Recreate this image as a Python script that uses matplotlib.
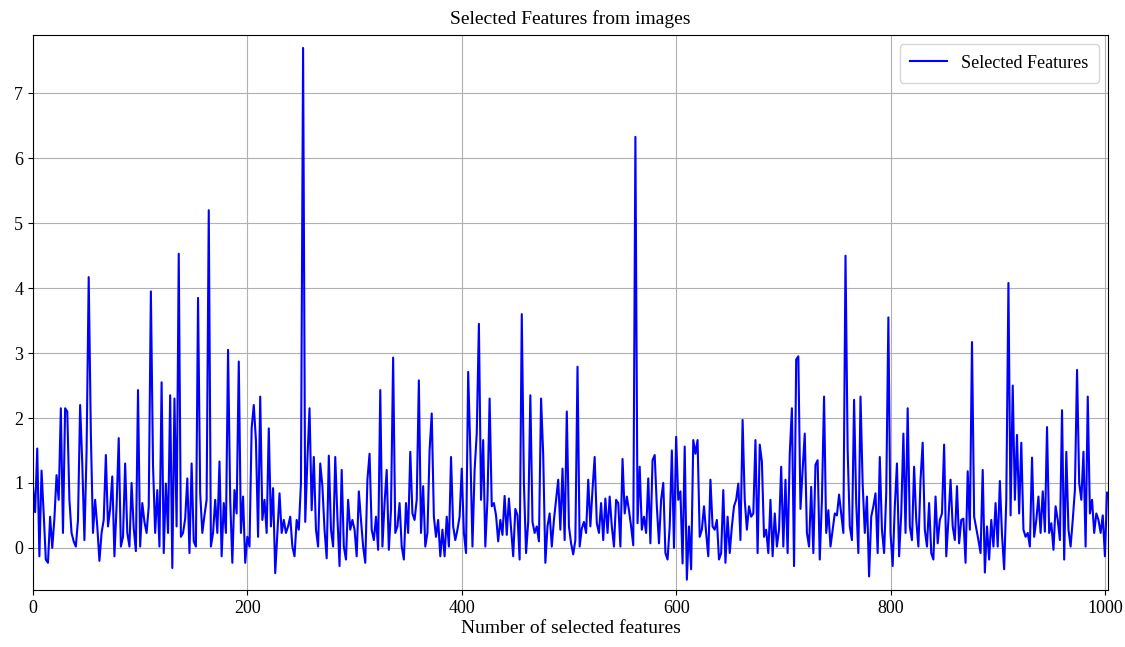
import numpy as np
import matplotlib.pyplot as plt

plt.rcParams['font.family'] = ['Liberation Serif', 'DejaVu Serif']

# feature values, one every 2 feature indices (0, 2, ..., 1002)
seg_000_082 = [0.94, 0.55, 1.53, -0.13, 1.19, 0.53, -0.18, -0.23, 0.48, 0.0,
               0.45, 1.12, 0.74, 2.15, 0.23, 2.15, 2.1, 0.74, 0.23, 0.1,
               0.02, 0.43, 2.2, 1.3, 0.12, 1.48, 4.17, 1.76, 0.23, 0.74,
               0.33, -0.2, 0.23, 0.43, 1.43, 0.33, 0.6, 1.1, -0.13, 0.64,
               1.69, 0.02]
seg_084_166 = [0.17, 1.3, 0.23, 0.02, 1.0, 0.3, -0.05, 2.43, 0.02, 0.69,
               0.4, 0.23, 0.64, 3.95, 1.27, 0.23, 0.89, 0.02, 2.55, -0.08,
               0.99, 0.23, 2.35, -0.31, 2.3, 0.33, 4.53, 0.17, 0.23, 0.45,
               1.07, -0.08, 1.3, 0.1, 0.02, 3.85, 0.84, 0.23, 0.5, 0.74,
               5.2, 0.02]
seg_168_250 = [0.23, 0.74, 0.23, 1.33, -0.13, 0.69, 0.23, 3.05, 0.74, -0.23,
               0.89, 0.53, 2.87, 0.23, 0.79, -0.23, 0.17, 0.02, 1.84, 2.2,
               1.66, 0.17, 2.33, 0.43, 0.74, 0.23, 1.84, 0.33, 0.92, -0.39,
               0.23, 0.84, 0.23, 0.43, 0.23, 0.33, 0.48, 0.02, -0.13, 0.43,
               0.28, 1.0]
seg_252_334 = [7.7, 0.4, 1.35, 2.15, 0.58, 1.4, 0.28, 0.02, 1.3, 0.95,
               0.28, -0.16, 1.42, 0.28, 0.02, 1.4, 0.48, -0.28, 1.2, 0.02,
               -0.18, 0.74, 0.28, 0.43, 0.28, -0.13, 0.87, 0.43, 0.02, -0.23,
               1.05, 1.45, 0.28, 0.12, 0.48, -0.03, 2.43, 0.02, 0.69, 1.2,
               -0.03, 0.58]
seg_336_418 = [2.93, 0.23, 0.33, 0.69, 0.02, -0.18, 0.69, 0.23, 1.48, 0.53,
               0.43, 0.74, 2.58, 0.23, 0.95, 0.02, 0.23, 1.5, 2.07, 0.48,
               0.17, 0.43, -0.13, 0.28, -0.13, 0.48, 0.02, 1.4, 0.33, 0.12,
               0.28, 0.48, 1.22, 0.23, -0.08, 2.71, 1.5, 0.02, 1.2, 1.76,
               3.45, 0.74]
seg_420_502 = [1.66, 0.02, 0.74, 2.3, 0.64, 0.69, 0.5, 0.1, 0.43, 0.2,
               0.8, 0.2, 0.76, 0.3, -0.13, 0.6, 0.5, -0.18, 3.6, 0.99,
               -0.08, 0.4, 2.35, 0.4, 0.23, 0.33, 0.1, 2.3, 1.43, -0.23,
               0.33, 0.53, 0.02, 0.43, 0.74, 1.05, 0.28, 1.22, 0.12, 2.1,
               0.33, 0.07]
seg_504_586 = [-0.1, 0.12, 2.79, 0.02, 0.3, 0.4, 0.23, 1.05, 0.33, 0.9,
               1.4, 0.38, 0.23, 0.69, 0.12, 0.76, 0.23, 0.79, 0.33, 0.02,
               0.74, 0.69, 0.02, 1.37, 0.53, 0.79, 0.58, 0.33, 0.04, 6.33,
               0.38, 1.25, 0.28, 0.48, 0.23, 1.07, 0.07, 1.35, 1.43, 0.64,
               0.07, 0.74]
seg_588_670 = [1.0, -0.08, -0.18, 0.33, 1.5, 0.0, 1.71, 0.74, 0.87, -0.24,
               1.56, -0.49, 0.33, -0.33, 1.66, 1.45, 1.66, 0.17, 0.28, 0.64,
               0.23, -0.13, 1.05, 0.33, 0.28, 0.43, -0.18, -0.08, 0.89, -0.23,
               0.48, -0.08, 0.33, 0.64, 0.74, 0.99, 0.12, 1.97, 0.74, 0.28,
               0.64, 0.48]
seg_672_754 = [0.53, 1.66, -0.08, 1.59, 1.33, 0.17, 0.28, -0.08, 0.74, -0.13,
               0.53, 0.02, 0.28, 1.25, 0.02, 1.05, -0.08, 1.45, 2.15, -0.28,
               2.9, 2.95, 0.6, 1.2, 1.76, 0.23, 0.02, 0.94, -0.08, 1.28,
               1.35, -0.18, 0.74, 2.33, 0.23, 0.58, 0.02, 0.28, 0.53, 0.5,
               0.82, 0.53]
seg_756_838 = [0.23, 4.5, 1.51, 0.33, 0.12, 2.28, 0.69, -0.08, 2.33, 0.99,
               0.23, 0.79, -0.44, 0.48, 0.64, 0.84, -0.08, 1.4, 0.28, -0.08,
               0.84, 3.55, 0.23, -0.28, 0.64, 1.3, -0.13, 0.53, 1.76, 0.23,
               2.15, 0.33, 0.12, 1.25, 0.43, 0.02, 1.05, 1.62, 0.28, 0.02,
               0.69, -0.08]
seg_840_922 = [-0.18, 0.79, 0.07, 0.43, 0.53, 1.59, -0.13, 0.43, 1.05, 0.33,
               0.12, 0.95, 0.07, 0.43, 0.45, -0.23, 1.18, 0.28, 3.17, 0.48,
               0.3, 0.12, -0.08, 1.2, -0.38, 0.33, -0.18, 0.43, 0.02, 0.69,
               0.02, 1.03, 0.2, -0.33, 0.74, 4.08, 0.5, 2.5, 0.74, 1.74,
               0.53, 1.62]
seg_924_1002 = [0.28, 0.17, 0.23, 0.02, 1.39, 0.17, 0.43, 0.79, 0.23, 0.87,
                0.25, 1.86, 0.23, 0.38, -0.03, 0.64, 0.43, 0.12, 2.12, -0.18,
                1.48, 0.28, 0.02, 0.43, 0.89, 2.74, 1.0, 0.74, 1.48, 0.02,
                2.33, 0.53, 0.74, 0.23, 0.53, 0.43, 0.23, 0.5, -0.13, 0.85]

features = np.array(seg_000_082 + seg_084_166 + seg_168_250 + seg_252_334 +
                    seg_336_418 + seg_420_502 + seg_504_586 + seg_588_670 +
                    seg_672_754 + seg_756_838 + seg_840_922 + seg_924_1002)
idx = np.arange(len(features)) * 2

fig = plt.figure(figsize=(11.25, 6.47), dpi=100)
ax = fig.add_axes([0.0293, 0.088, 0.9557, 0.858])
ax.plot(idx, features, color='blue', linewidth=1.5, label='Selected Features')
ax.set_xlim(0, 1003)
ax.set_ylim(-0.65, 7.9)
ax.set_xticks([0, 200, 400, 600, 800, 1000])
ax.set_yticks(range(0, 8))
ax.grid(True, color='#b0b0b0', linewidth=0.8)
ax.tick_params(labelsize=13)
ax.set_title('Selected Features from images', fontsize=14, pad=8)
ax.set_xlabel('Number of selected features', fontsize=14, labelpad=2)
ax.legend(loc='upper right', fontsize=13, borderpad=0.6)

fig.savefig('out.png', dpi=100)
